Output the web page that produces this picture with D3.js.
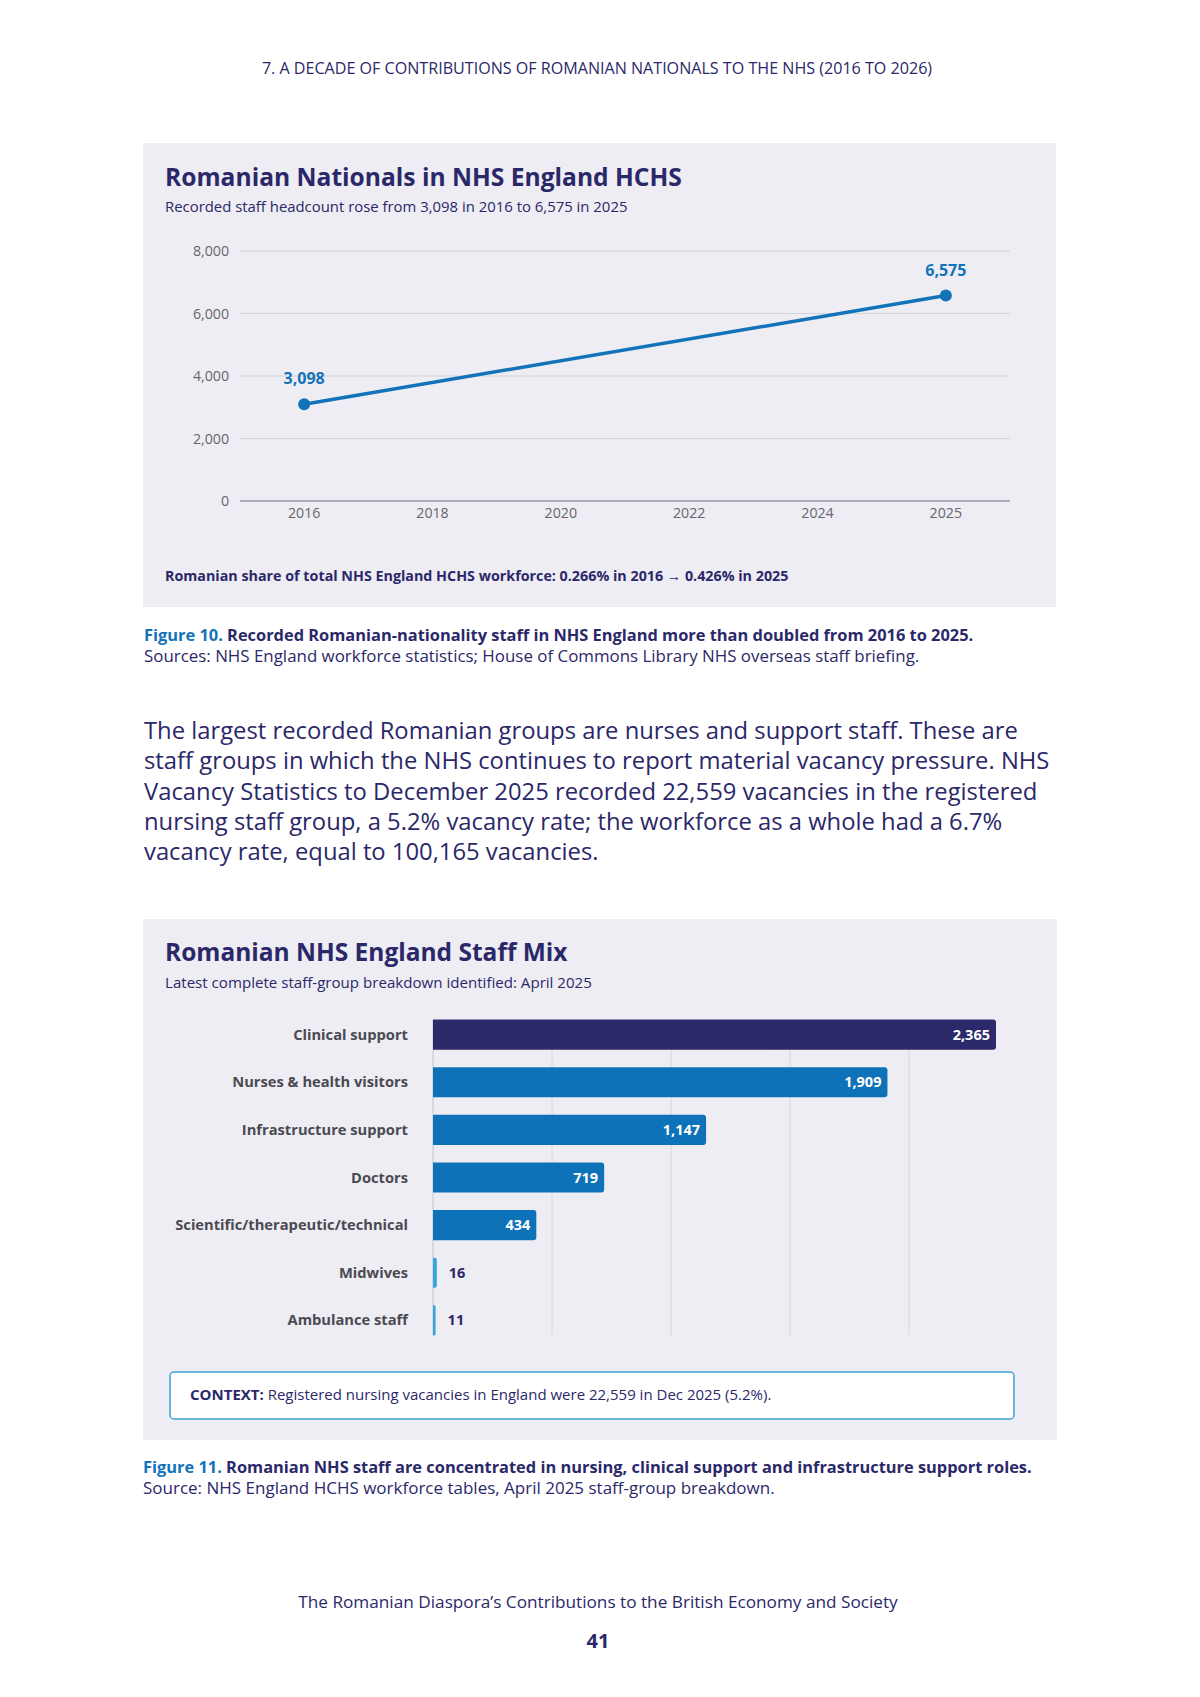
<!DOCTYPE html>
<html>
<head>
<meta charset="utf-8">
<script src="https://cdn.jsdelivr.net/npm/d3@7"></script>
<style>
  body { margin: 0; background: #fff; }
  svg { display: block; font-family: "Open Sans", sans-serif; }
</style>
</head>
<body>
<script>
// data
var axisYears = ["2016", "2018", "2020", "2022", "2024", "2025"];
var headcountYears = ["2016", "2025"];
var headcount = [3098, 6575];
var yTicks = [0, 2000, 4000, 6000, 8000];

var staffGroups = ["Clinical support", "Nurses & health visitors", "Infrastructure support",
    "Doctors", "Scientific/therapeutic/technical", "Midwives", "Ambulance staff"];
var staffCounts = [2365, 1909, 1147, 719, 434, 16, 11];
var gridTicks = [500, 1000, 1500, 2000];

var paragraph = [
    "The largest recorded Romanian groups are nurses and support staff. These are",
    "staff groups in which the NHS continues to report material vacancy pressure. NHS",
    "Vacancy Statistics to December 2025 recorded 22,559 vacancies in the registered",
    "nursing staff group, a 5.2% vacancy rate; the workforce as a whole had a 6.7%",
    "vacancy rate, equal to 100,165 vacancies."
];

var navy = "#2b2869";
var blue = "#1273b9";
var lightBlue = "#34a6dc";
var panelBg = "#eeedf3";

var svg = d3.select("body").append("svg")
    .attr("width", 1200)
    .attr("height", 1697);

// page header
svg.append("text")
    .attr("x", 597).attr("y", 74)
    .attr("text-anchor", "middle")
    .style("font-size", "16.1px").style("fill", navy)
    .text("7. A DECADE OF CONTRIBUTIONS OF ROMANIAN NATIONALS TO THE NHS (2016 TO 2026)");

// ---------- panel 1: line chart ----------
svg.append("rect").attr("x", 143).attr("y", 143).attr("width", 913).attr("height", 464)
    .style("fill", panelBg);

svg.append("text").attr("x", 165).attr("y", 186)
    .style("font-size", "24.6px").style("font-weight", 700).style("fill", navy)
    .text("Romanian Nationals in NHS England HCHS");
svg.append("text").attr("x", 165).attr("y", 212)
    .style("font-size", "14.9px").style("fill", navy)
    .text("Recorded staff headcount rose from 3,098 in 2016 to 6,575 in 2025");

var x = d3.scalePoint().domain(axisYears).range([240, 1010]).padding(0.5);
var y = d3.scaleLinear().domain([0, 8000]).range([501, 251]);

svg.selectAll(".grid").data(yTicks).enter().append("line")
    .attr("x1", 240).attr("x2", 1010)
    .attr("y1", function(d) { return y(d); })
    .attr("y2", function(d) { return y(d); })
    .style("stroke", function(d) { return d === 0 ? "#9a9aa6" : "#d3d3dc"; })
    .style("stroke-width", function(d) { return d === 0 ? 1.5 : 1.2; });

svg.selectAll(".ytick").data(yTicks).enter().append("text")
    .attr("x", 229).attr("y", function(d) { return y(d) + 5; })
    .attr("text-anchor", "end")
    .style("font-size", "14.2px").style("fill", "#66666e")
    .text(function(d) { return d3.format(",")(d); });

svg.selectAll(".xtick").data(axisYears).enter().append("text")
    .attr("x", function(d) { return x(d); }).attr("y", 518)
    .attr("text-anchor", "middle")
    .style("font-size", "14.2px").style("fill", "#66666e")
    .text(function(d) { return d; });

var pts = headcountYears.map(function(yr, i) { return { year: yr, value: headcount[i] }; });

svg.append("path").datum(pts)
    .attr("d", d3.line().x(function(d) { return x(d.year); }).y(function(d) { return y(d.value); }))
    .style("fill", "none").style("stroke", blue).style("stroke-width", 3.5);

svg.selectAll(".pt").data(pts).enter().append("circle")
    .attr("cx", function(d) { return x(d.year); })
    .attr("cy", function(d) { return y(d.value); })
    .attr("r", 6).style("fill", blue);

svg.selectAll(".ptlabel").data(pts).enter().append("text")
    .attr("x", function(d) { return x(d.year); })
    .attr("y", function(d) { return y(d.value) - 20; })
    .attr("text-anchor", "middle")
    .style("font-size", "16px").style("font-weight", 700).style("fill", blue)
    .text(function(d) { return d3.format(",")(d.value); });

svg.append("text").attr("x", 165).attr("y", 581)
    .style("font-size", "14.3px").style("font-weight", 700).style("fill", navy)
    .text("Romanian share of total NHS England HCHS workforce: 0.266% in 2016 \u2192 0.426% in 2025");

// figure 10 caption
var cap10 = svg.append("text").attr("x", 144).attr("y", 641)
    .style("font-size", "16.4px").style("font-weight", 700).style("fill", navy);
cap10.append("tspan").style("fill", blue).text("Figure 10. ");
cap10.append("tspan").text("Recorded Romanian-nationality staff in NHS England more than doubled from 2016 to 2025.");
svg.append("text").attr("x", 144).attr("y", 662)
    .style("font-size", "16.9px").style("fill", navy)
    .text("Sources: NHS England workforce statistics; House of Commons Library NHS overseas staff briefing.");

// body paragraph
svg.selectAll(".para").data(paragraph).enter().append("text")
    .attr("x", 144).attr("y", function(d, i) { return 739 + i * 30.3; })
    .style("font-size", "23.8px").style("fill", navy)
    .text(function(d) { return d; });

// ---------- panel 2: bar chart ----------
svg.append("rect").attr("x", 143).attr("y", 919).attr("width", 914).attr("height", 521)
    .style("fill", panelBg);

svg.append("text").attr("x", 165).attr("y", 961)
    .style("font-size", "24.5px").style("font-weight", 700).style("fill", navy)
    .text("Romanian NHS England Staff Mix");
svg.append("text").attr("x", 165).attr("y", 988)
    .style("font-size", "15.1px").style("fill", navy)
    .text("Latest complete staff-group breakdown identified: April 2025");

var bx = d3.scaleLinear().domain([0, d3.max(staffCounts)]).range([433, 996]);
var by = d3.scaleBand().domain(staffGroups).range([1002, 1353]).paddingInner(0.37).paddingOuter(0.37);

var gTop = by(staffGroups[0]);
var gBot = by(staffGroups[staffGroups.length - 1]) + by.bandwidth();

svg.selectAll(".vgrid").data(gridTicks).enter().append("line")
    .attr("x1", function(d) { return bx(d); }).attr("x2", function(d) { return bx(d); })
    .attr("y1", gTop).attr("y2", gBot)
    .style("stroke", "#d6d6de").style("stroke-width", 1);
svg.append("line").attr("x1", bx(0)).attr("x2", bx(0)).attr("y1", gTop).attr("y2", gBot)
    .style("stroke", "#c4c4cc").style("stroke-width", 1);

var bars = staffGroups.map(function(g, i) { return { group: g, value: staffCounts[i], i: i }; });

svg.selectAll(".bar").data(bars).enter().append("path")
    .attr("d", function(d) {
        var x0 = bx(0), x1 = bx(d.value), y0 = by(d.group), h = by.bandwidth();
        var r = Math.min(3, (x1 - x0) / 2);
        return "M" + x0 + "," + y0 + "H" + (x1 - r) + "Q" + x1 + "," + y0 + " " + x1 + "," + (y0 + r) +
            "V" + (y0 + h - r) + "Q" + x1 + "," + (y0 + h) + " " + (x1 - r) + "," + (y0 + h) + "H" + x0 + "Z";
    })
    .style("fill", function(d) { return d.i === 0 ? "#2d2a6b" : (d.value < 100 ? lightBlue : "#0e72b8"); });

svg.selectAll(".blabel").data(bars).enter().append("text")
    .attr("x", 408)
    .attr("y", function(d) { return by(d.group) + by.bandwidth() / 2 + 5; })
    .attr("text-anchor", "end")
    .style("font-size", "14.7px").style("font-weight", 700).style("fill", "#4a4a52")
    .text(function(d) { return d.group; });

svg.selectAll(".bval").data(bars).enter().append("text")
    .attr("x", function(d) { return d.value < 100 ? bx(d.value) + 12 : bx(d.value) - 6; })
    .attr("y", function(d) { return by(d.group) + by.bandwidth() / 2 + 5; })
    .attr("text-anchor", function(d) { return d.value < 100 ? "start" : "end"; })
    .style("font-size", "14.5px").style("font-weight", 700)
    .style("fill", function(d) { return d.value < 100 ? navy : "#fff"; })
    .text(function(d) { return d3.format(",")(d.value); });

// context box
svg.append("rect").attr("x", 170).attr("y", 1372).attr("width", 844).attr("height", 47).attr("rx", 4)
    .style("fill", "#fff").style("stroke", "#3aa5d4").style("stroke-width", 1.5);
var ctx = svg.append("text").attr("x", 190).attr("y", 1400)
    .style("font-size", "15px").style("fill", navy);
ctx.append("tspan").style("font-weight", 700).text("CONTEXT:  ");
ctx.append("tspan").text("Registered nursing vacancies in England were 22,559 in Dec 2025 (5.2%).");

// figure 11 caption
var cap11 = svg.append("text").attr("x", 143).attr("y", 1473)
    .style("font-size", "16.4px").style("font-weight", 700).style("fill", navy);
cap11.append("tspan").style("fill", blue).text("Figure 11. ");
cap11.append("tspan").text("Romanian NHS staff are concentrated in nursing, clinical support and infrastructure support roles.");
svg.append("text").attr("x", 143).attr("y", 1494)
    .style("font-size", "17px").style("fill", navy)
    .text("Source: NHS England HCHS workforce tables, April 2025 staff-group breakdown.");

// footer
svg.append("text").attr("x", 598).attr("y", 1608).attr("text-anchor", "middle")
    .style("font-size", "17.2px").style("fill", navy)
    .text("The Romanian Diaspora\u2019s Contributions to the British Economy and Society");
svg.append("text").attr("x", 598).attr("y", 1648).attr("text-anchor", "middle")
    .style("font-size", "20px").style("font-weight", 700).style("fill", navy)
    .text("41");
</script>
</body>
</html>
